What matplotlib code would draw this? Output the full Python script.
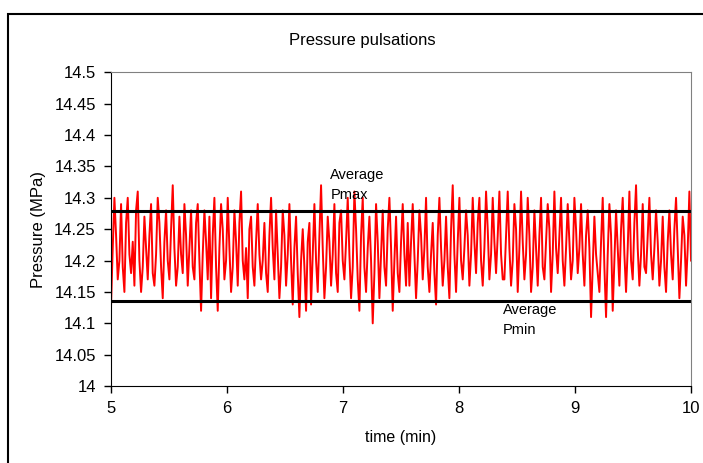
import numpy as np
import matplotlib.pyplot as plt
from matplotlib.patches import Rectangle

plt.rcParams['font.family'] = ['Liberation Sans', 'DejaVu Sans']

# pressure readings (MPa) in six chunks of ~0.83 min
s1 = [14.13, 14.22, 14.30, 14.24, 14.17, 14.20, 14.29, 14.19, 14.15, 14.26, 14.30, 14.21, 14.18, 14.23,
      14.16, 14.28, 14.31, 14.20, 14.15, 14.19, 14.27, 14.22, 14.17, 14.24, 14.29, 14.18, 14.16, 14.21,
      14.30, 14.26, 14.19, 14.14, 14.23, 14.28, 14.20, 14.17, 14.25, 14.32, 14.22, 14.16, 14.19, 14.27,
      14.21, 14.18, 14.29, 14.24, 14.16, 14.22, 14.28, 14.19, 14.17, 14.26, 14.29, 14.20, 14.12, 14.21,
      14.28, 14.23, 14.17, 14.27]
s2 = [14.14, 14.24, 14.30, 14.19, 14.12, 14.22, 14.29, 14.25, 14.17, 14.20, 14.30, 14.22, 14.15, 14.19,
      14.28, 14.23, 14.16, 14.26, 14.31, 14.20, 14.17, 14.22, 14.14, 14.25, 14.27, 14.19, 14.16, 14.23,
      14.29, 14.21, 14.17, 14.20, 14.26, 14.18, 14.15, 14.24, 14.30, 14.22, 14.17, 14.28, 14.21, 14.14,
      14.19, 14.28, 14.24, 14.16, 14.21, 14.29, 14.20, 14.13, 14.22, 14.27, 14.18, 14.11, 14.20, 14.25,
      14.19, 14.12, 14.23, 14.26]
s3 = [14.13, 14.21, 14.29, 14.20, 14.15, 14.24, 14.32, 14.22, 14.14, 14.19, 14.27, 14.23, 14.16, 14.21,
      14.29, 14.18, 14.15, 14.26, 14.28, 14.20, 14.17, 14.23, 14.30, 14.21, 14.14, 14.19, 14.31, 14.25,
      14.17, 14.12, 14.24, 14.30, 14.19, 14.15, 14.22, 14.27, 14.20, 14.10, 14.18, 14.29, 14.23, 14.14,
      14.21, 14.28, 14.19, 14.16, 14.25, 14.30, 14.22, 14.12, 14.20, 14.27, 14.18, 14.15, 14.23, 14.29,
      14.21, 14.16, 14.26]
s4 = [14.16, 14.23, 14.29, 14.21, 14.14, 14.20, 14.28, 14.24, 14.17, 14.22, 14.30, 14.19, 14.15, 14.21,
      14.26, 14.18, 14.13, 14.24, 14.30, 14.22, 14.16, 14.20, 14.27, 14.19, 14.14, 14.25, 14.32, 14.21,
      14.15, 14.23, 14.30, 14.20, 14.17, 14.22, 14.28, 14.24, 14.16, 14.21, 14.30, 14.23, 14.18, 14.26,
      14.30, 14.20, 14.16, 14.22, 14.31, 14.25, 14.17, 14.21, 14.30, 14.23, 14.18, 14.24, 14.31, 14.21,
      14.17]
s5 = [14.17, 14.24, 14.31, 14.22, 14.16, 14.20, 14.29, 14.25, 14.15, 14.22, 14.31, 14.23, 14.17, 14.21,
      14.30, 14.24, 14.15, 14.19, 14.28, 14.22, 14.16, 14.24, 14.30, 14.19, 14.17, 14.23, 14.29, 14.25,
      14.15, 14.21, 14.31, 14.22, 14.18, 14.24, 14.30, 14.20, 14.16, 14.22, 14.29, 14.23, 14.17, 14.20,
      14.30, 14.25, 14.18, 14.22, 14.29, 14.21, 14.16, 14.24, 14.28, 14.22, 14.11, 14.19, 14.27, 14.21,
      14.18]
s6 = [14.15, 14.23, 14.30, 14.19, 14.11, 14.21, 14.29, 14.24, 14.12, 14.20, 14.28, 14.22, 14.16, 14.25,
      14.30, 14.21, 14.15, 14.22, 14.31, 14.20, 14.17, 14.26, 14.32, 14.22, 14.16, 14.21, 14.29, 14.19,
      14.18, 14.24, 14.30, 14.21, 14.17, 14.22, 14.28, 14.23, 14.16, 14.20, 14.27, 14.19, 14.15, 14.23,
      14.28, 14.21, 14.17, 14.25, 14.30, 14.22, 14.14, 14.20, 14.27, 14.24, 14.16, 14.22, 14.31, 14.20]

p_max_avg = 14.279
p_min_avg = 14.136

pressure = np.array(s1 + s2 + s3 + s4 + s5 + s6)
time = np.linspace(5, 10, len(pressure))

fig = plt.figure(figsize=(7.03, 4.63), dpi=100)
ax = fig.add_axes([0.158, 0.166, 0.825, 0.678])

ax.plot(time, pressure, color='red', lw=1.4)
ax.axhline(p_max_avg, color='black', lw=2.2)
ax.axhline(p_min_avg, color='black', lw=2.2)

ax.set_xlim(5, 10)
ax.set_ylim(14, 14.5)
ax.set_xticks([5, 6, 7, 8, 9, 10])
ax.set_yticks(np.arange(14, 14.51, 0.05))
ax.set_yticklabels(['14', '14.05', '14.1', '14.15', '14.2', '14.25', '14.3', '14.35', '14.4', '14.45', '14.5'])
ax.tick_params(direction='out', length=5, width=1, labelsize=12, pad=6)

ax.spines['top'].set_color('#808080')
ax.spines['right'].set_color('#808080')

ax.set_xlabel('time (min)', fontsize=11.5, labelpad=10)
ax.set_ylabel('Pressure (MPa)', fontsize=12, labelpad=6)
fig.text(0.515, 0.913, 'Pressure pulsations', ha='center', va='center', fontsize=12)

ax.text(6.89, 14.32, 'Average\nPmax', ha='left', va='center', fontsize=10.5, linespacing=1.5)
ax.text(8.38, 14.105, 'Average\nPmin', ha='left', va='center', fontsize=10.5, linespacing=1.5)

# outer chart border
fig.patches.append(Rectangle((0.0114, -0.1), 1.2, 0.9698 + 0.1, transform=fig.transFigure,
                             fill=False, edgecolor='black', lw=1.5))

fig.savefig('out.png', dpi=100)
